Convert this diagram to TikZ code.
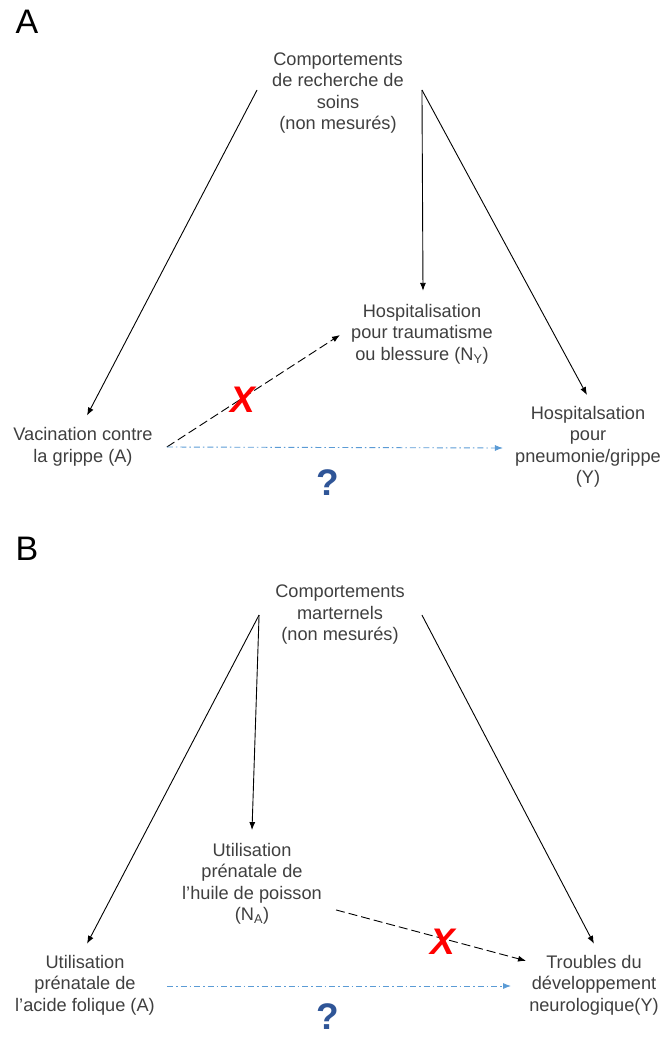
\documentclass[tikz,border=0pt]{standalone}
\usepackage{fontspec}
\setmainfont{Liberation Sans}
\usepackage{tikz}
\usetikzlibrary{arrows.meta}
\definecolor{txtgray}{HTML}{3F3F3F}
\definecolor{qblue}{HTML}{2F5597}
\definecolor{linkblue}{HTML}{5B9BD5}
\definecolor{xred}{HTML}{FF0000}

\begin{document}
\begin{tikzpicture}[
    x=1pt, y=-1pt,
    lbl/.style={align=center, inner sep=0pt, text=txtgray,
        font=\fontsize{18.2}{21.5}\selectfont},
    arr/.style={-{Latex[length=8pt,width=6pt]}, line width=0.9pt},
    dsh/.style={arr, dash pattern=on 9pt off 4pt},
    dotdash/.style={arr, linkblue, dash pattern=on 6pt off 3pt on 1.5pt off 3pt},
    redx/.style={inner sep=0pt, text=xred,
        font=\fontsize{37}{37}\selectfont\bfseries\itshape},
    qmark/.style={inner sep=0pt, text=qblue,
        font=\fontsize{37}{37}\selectfont\bfseries},
    panel/.style={inner sep=0pt, font=\fontsize{34}{34}\selectfont}]
    \useasboundingbox (0,0) rectangle (659,1038);

    % Panneau A
    \node[panel] (labA) at (27,22) {A};
    \node[lbl] (compA) at (338,93) {Comportements\\de recherche de\\soins\\(non mesurés)};
    \node[lbl] (nyA) at (422,334) {Hospitalisation\\pour traumatisme\\ou blessure (N\textsubscript{Y})};
    \node[lbl] (vacA) at (83,447) {Vacination contre\\la grippe (A)};
    \node[lbl] (hospA) at (588,447) {Hospitalsation\\pour\\pneumonie/grippe\\(Y)};
    \node[qmark] (qA) at (328,483) {?};

    \draw[arr] ([shift={(-15,-3)}]compA.west) -- ([shift={(4,-12)}]vacA.north);
    \draw[arr] ([shift={(18,-3)}]compA.east) -- ([shift={(1,-13)}]nyA.north);
    \draw[arr] ([shift={(18,-3)}]compA.east) -- ([shift={(-1,-11)}]hospA.north);
    \draw[dsh] ([shift={(14,0)}]vacA.east) -- ([shift={(-11,1)}]nyA.west);
    \draw[dotdash] ([shift={(14,0)}]vacA.east) -- ([shift={(-12,1)}]hospA.west);
    \node[redx] (xA) at (243,400) {X};

    % Panneau B
    \node[panel] (labB) at (27,549) {B};
    \node[lbl] (compB) at (340,615) {Comportements\\marternels\\(non mesurés)};
    \node[lbl] (naB) at (252,884) {Utilisation\\prénatale de\\l’huile de poisson\\(N\textsubscript{A})};
    \node[lbl] (acB) at (85,985) {Utilisation\\prénatale de\\l’acide folique (A)};
    \node[lbl] (trB) at (594,985) {Troubles du\\développement\\neurologique(Y)};
    \node[qmark] (qB) at (328,1017) {?};

    \draw[arr] ([shift={(-16,0)}]compB.west) -- ([shift={(2,-11)}]acB.north);
    \draw[arr] ([shift={(-16,0)}]compB.west) -- ([shift={(0,-13)}]naB.north);
    \draw[arr] ([shift={(17,0)}]compB.east) -- ([shift={(0,-11)}]trB.north);
    \draw[dsh] ([shift={(14,-15)}]naB.south east) -- ([shift={(-3,6)}]trB.north west);
    \draw[dotdash] ([shift={(12,1)}]acB.east) -- ([shift={(-18,1)}]trB.west);
    \node[redx] (xB) at (443,942) {X};
\end{tikzpicture}
\end{document}
